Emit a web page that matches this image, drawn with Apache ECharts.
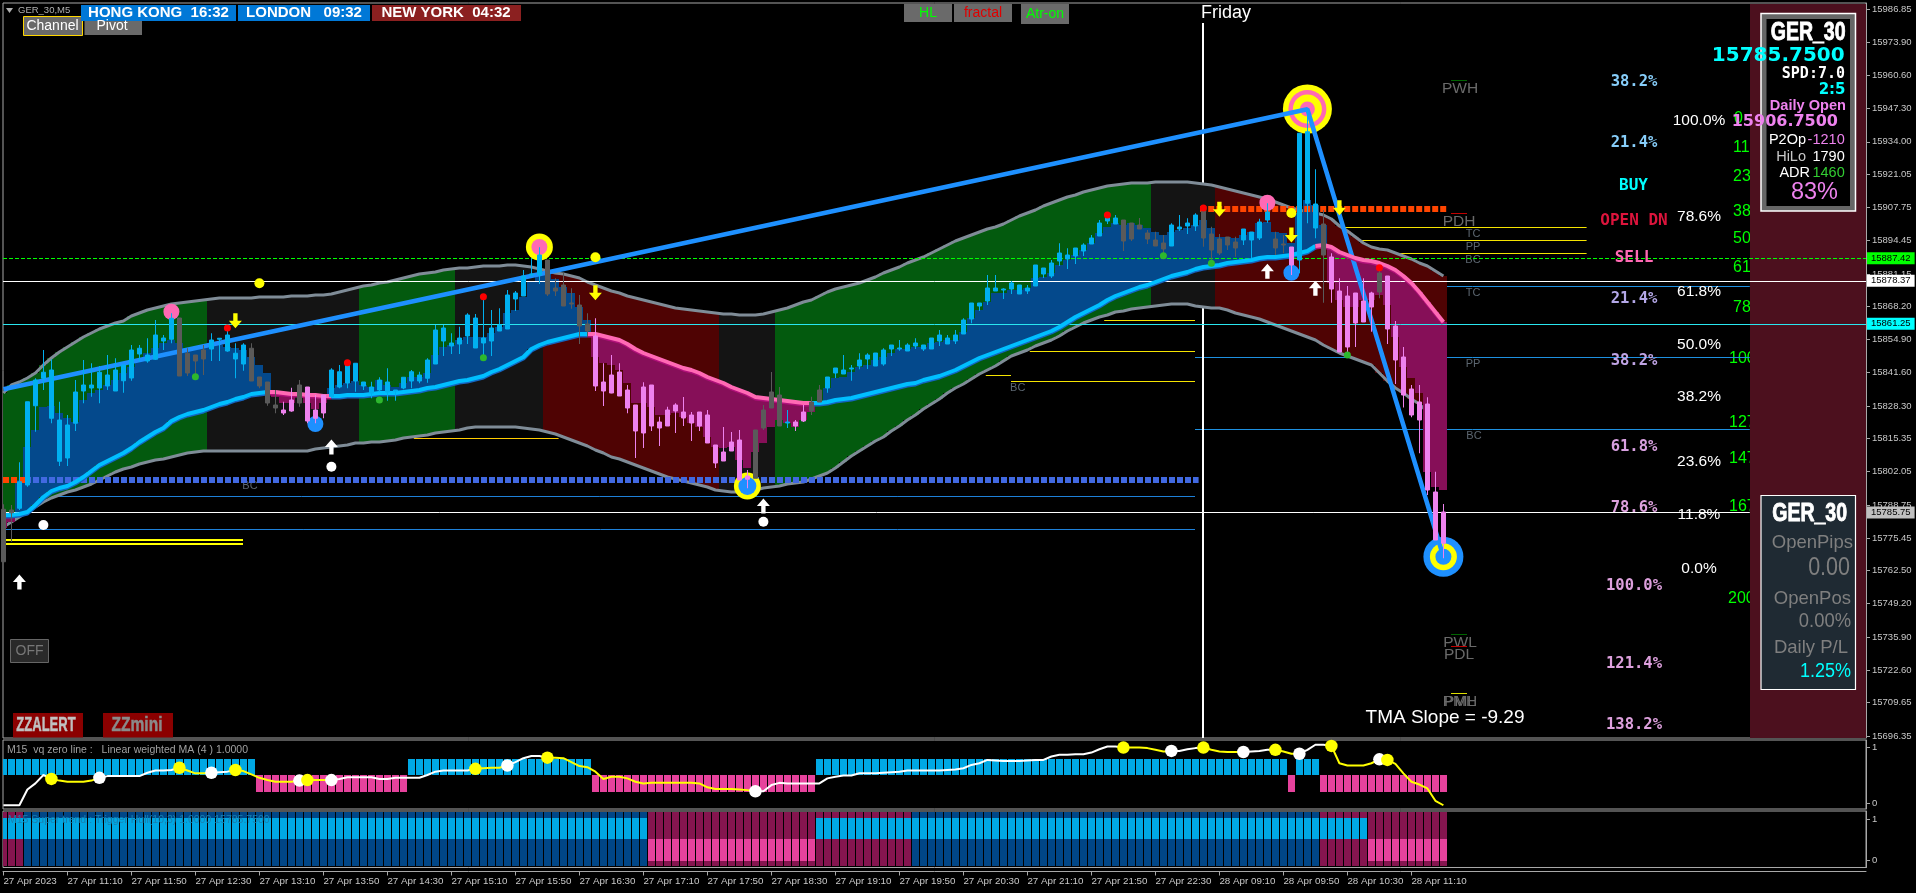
<!DOCTYPE html>
<html><head><meta charset="utf-8">
<style>html,body{margin:0;padding:0;background:#000}#c{width:1916px;height:893px}</style>
<script src="https://cdn.jsdelivr.net/npm/echarts@6/dist/echarts.min.js"></script>
</head><body><div id="c"></div>
<script>
const timeLabels=['27 Apr 2023','27 Apr 11:10','27 Apr 11:50','27 Apr 12:30','27 Apr 13:10','27 Apr 13:50','27 Apr 14:30','27 Apr 15:10','27 Apr 15:50','27 Apr 16:30','27 Apr 17:10','27 Apr 17:50','27 Apr 18:30','27 Apr 19:10','27 Apr 19:50','27 Apr 20:30','27 Apr 21:10','27 Apr 21:50','27 Apr 22:30','28 Apr 09:10','28 Apr 09:50','28 Apr 10:30','28 Apr 11:10'];
const priceTicks=[15986.85,15973.90,15960.60,15947.30,15934.00,15921.05,15907.75,15894.45,15881.15,15868.20,15854.90,15841.60,15828.30,15815.35,15802.05,15788.75,15775.45,15762.50,15749.20,15735.90,15722.60,15709.65,15696.35];

const candleKindRuns=[['g',2],['c',20],['g',4],['c',5],['g',4],['p',2],['g',1],['p',3],['c',27],['g',6],['p',20],['g',4],['c',1],['p',2],['g',2],['c',37],['g',6],['c',4],['g',5],['c',4],['g',2],['p',1],['c',3],['g',1],['p',6],['g',1],['p',8]];
const bodyTop=[15787,15786.7,15798,15830,15838.7,15841.8,15842.7,15822.7,15820.7,15833.9,
15836.7,15836.7,15841.8,15840.7,15842.7,15844.7,15850.7,15851.4,15848.7,15856.7,
15855.5,15863.4,15863.5,15849.4,15848.7,15850.7,15854.7,15855.4,15856.7,15849.4,
15852.7,15851.4,15839.9,15837.9,15828.7,15826.7,15830.7,15836.7,15835.9,15826.7,
15832.7,15842.7,15842,15844.7,15845.4,15837.9,15835.9,15838.7,15837.9,15834.7,
15839.8,15842,15840.7,15846.7,15858.7,15859.5,15853.5,15855.5,15864.7,15863.5,
15855.5,15859.5,15860.7,15872.7,15873.5,15880.3,15881.1,15888.7,15886.7,15875.5,
15876.7,15869.5,15868.7,15861.1,15856.3,15837.9,15840.7,15841.9,15834.7,15828.7,
15835.9,15836.7,15821.9,15826.7,15828.7,15825.9,15824.7,15825.9,15824.7,15812.7,
15809.9,15813.9,15814.7,15800.3,15818.7,15826.7,15833.9,15832.7,15821.9,15821.9,
15825.9,15829.9,15834.7,15839.9,15843.5,15842.7,15843.5,15846.7,15848.7,15849.5,
15850.7,15852.7,15851.5,15852.7,15853.5,15852.7,15855.5,15856.7,15855.5,15856.7,
15862.7,15869.5,15869.5,15875.5,15875.5,15875.1,15877.5,15876.7,15875.5,15884.7,
15883.5,15885.5,15889.5,15888.7,15891.5,15892.7,15895.5,15901.5,15904.7,15903.5,
15902.7,15901.5,15900.7,15897.5,15894.7,15893.5,15900.7,15899.9,15901.5,15904.7,
15907.1,15897.1,15895.1,15895.9,15893.9,15899.1,15897.9,15901.9,15905.9,15895.1,
15893.1,15891.9,15937.4,15938,15909.1,15901.1,15887.9,15874.3,15872.3,15873.5,
15870.3,15873.5,15881.5,15880.3,15860.3,15847.9,15835.1,15829.9,15829.1,15793.9,
15785.9];
const bodyBottom=[15766,15785.6,15787.4,15796.7,15828.4,15839.4,15823.4,15806.2,15807.5,15821.4,
15834.3,15835.5,15835.5,15836.3,15834.3,15838.4,15839.5,15849.1,15846.3,15847,
15854.3,15855,15840.3,15841.5,15846.3,15847.1,15851.1,15855,15850.3,15847.1,
15845.1,15838.3,15836.3,15829.5,15827.5,15825.5,15826.3,15829.5,15822.3,15823.4,
15825.5,15832,15835.9,15837.5,15838.3,15836.3,15833.5,15834.7,15833.9,15834.3,
15835.5,15838.3,15838.3,15839.4,15845.1,15854.3,15852.3,15853.1,15856.3,15851.5,
15853.5,15854.3,15858.3,15859.1,15871.1,15872.3,15880.7,15880.7,15873.1,15874.3,
15868.3,15869.1,15860.3,15858.3,15836.3,15834.3,15833.5,15832.3,15827.5,15818.3,
15817.5,15820.3,15819.5,15820.3,15826.3,15823.5,15821.5,15820.3,15813.5,15805.5,
15806.3,15810.3,15798.7,15799,15799.4,15819.5,15827.5,15820.3,15821.5,15820.3,
15822.3,15826.3,15829.9,15835.5,15841.5,15841.1,15843.1,15844.3,15847.1,15844.3,
15845.1,15851.1,15851.1,15850.3,15852.3,15851.1,15851.1,15854.3,15853.1,15854.3,
15857.1,15863.1,15868.3,15870.3,15874.3,15874.7,15875.1,15873.1,15874.3,15876.3,
15881.1,15880.3,15886.3,15887.1,15888.3,15890.3,15893.1,15896.3,15902.3,15901.1,
15894.3,15895.1,15899.1,15895.1,15892.3,15891.1,15892.3,15899.1,15900.3,15900.3,
15895.5,15890.7,15889.5,15892.7,15891.5,15894.7,15894.7,15895.5,15902.7,15891.5,
15892.7,15884.7,15886.7,15909.4,15899.5,15888.7,15875.1,15849.9,15851.9,15861.5,
15861.9,15867.9,15873.9,15859.1,15846.7,15832.7,15824.7,15822.7,15794.7,15774.7,
15773.4];
const wickHigh=[15789,15788.7,15805.8,15830,15839.4,15850.7,15847,15830,15824.7,15838.7,
15846.7,15845.4,15844.3,15848.7,15847.4,15844.7,15852.7,15852.7,15855.4,15862.7,
15856.7,15865.4,15863.5,15851.4,15848.7,15852.7,15857.4,15855.4,15858.7,15853.4,
15853.4,15853.4,15839.9,15837.9,15834.7,15830,15835.6,15838.7,15835.9,15832.7,
15832.7,15843.4,15844.7,15846,15845.4,15837.9,15838,15839.8,15843.4,15834.7,
15839.8,15842.7,15842,15847.4,15860.7,15860.7,15857.4,15860,15865.4,15865.1,
15872,15866.7,15867.4,15874.7,15874.3,15882.7,15887.4,15891.8,15886.7,15879.4,
15881.6,15875.4,15872.7,15865.4,15863.4,15845.4,15848.7,15845.4,15836.7,15828.7,
15837.8,15836.7,15824,15828,15829.4,15831.9,15825.9,15825.9,15826.7,15812.7,
15819.9,15817.9,15818.7,15802.7,15818.7,15828.7,15841.9,15835.9,15826.7,15822.7,
15828.7,15832,15836.7,15839.9,15843.5,15848.7,15844.7,15849.4,15849.4,15849.5,
15851.4,15852.7,15854.7,15853.4,15855.4,15852.7,15855.5,15858.7,15856.7,15858.7,
15863.4,15869.5,15869.5,15880.7,15880.7,15875.4,15878.3,15876.7,15876.7,15884.7,
15883.5,15886.7,15893.4,15891.4,15891.5,15893.4,15896.7,15902.7,15905.9,15904.7,
15902.7,15901.5,15903.5,15898.7,15898,15896.7,15901.4,15904.7,15903.4,15905.4,
15907.1,15900,15897.1,15895.9,15896,15899.1,15897.9,15903.2,15909.4,15898,
15896.7,15891.9,15937.4,15947,15923,15906.7,15889.4,15879.4,15876.3,15873.5,
15879.4,15874,15884,15880.3,15862.3,15851.9,15836.7,15836.7,15831.8,15802,
15789.1];
const wickLow=[15766,15774,15786.7,15796,15818,15834.7,15821.4,15804.3,15804.3,15818.3,
15829.4,15832,15829.4,15834.7,15834.3,15833.6,15838.4,15846,15845.6,15846.7,
15850.7,15853.4,15840.3,15840.3,15839.4,15840.7,15846.3,15846.3,15850,15839.4,
15842.4,15838.3,15835.4,15828.4,15825.4,15824.7,15826,15828,15821.4,15821.4,
15823.4,15831.4,15835.4,15835.4,15834,15834.7,15831.4,15834,15830.4,15830.4,
15835,15835.4,15837.4,15837.6,15845.1,15848.3,15849.1,15849.1,15853.1,15851.5,
15848.3,15848.3,15858.3,15859.1,15866.3,15872.3,15880,15877.1,15872.3,15872.3,
15868.3,15867.2,15853.1,15856,15834.3,15828.3,15833.4,15832.3,15825.4,15807.5,
15811.5,15818.3,15812.3,15820.3,15817.5,15820.3,15814.3,15818.3,15813.5,15803.5,
15806.3,15810.3,15798.7,15795.4,15799.4,15818.7,15827.5,15820.3,15819.5,15818.3,
15821.9,15824.7,15829.9,15833.6,15839.5,15841.1,15838.4,15843,15843.1,15844.3,
15844.4,15848.3,15850.4,15850.3,15851.1,15850.3,15851.1,15852.3,15853.1,15853.1,
15857.1,15861.4,15866.3,15868.7,15874.3,15871.1,15873.1,15873.1,15873.1,15876.3,
15879.5,15879.5,15884.3,15883.1,15885.1,15888.3,15893.1,15896.3,15901.1,15901.1,
15890.3,15894.3,15899.1,15893.1,15892.3,15887.4,15892.3,15898.3,15897.1,15898.3,
15892,15884.7,15888.7,15890.7,15888,15892.7,15887.4,15894.7,15901.6,15888.7,
15889.4,15880.7,15881.4,15901.4,15895.4,15869.6,15869.6,15849.9,15848.7,15851.9,
15861.9,15858,15871.4,15853.1,15837.1,15827.7,15823.8,15809.4,15792.7,15774.7,
15767.4];

const upperBand=[15833.5,15836.7,15837.9,15839.5,15841.5,15844.7,15847.5,15849.9,15851.9,15853.9,
15855.9,15857.5,15859.1,15860.3,15861.5,15862.3,15864.3,15865.5,15866.7,15867.5,
15868.3,15869.1,15869.5,15869.9,15870.3,15870.7,15871.1,15871.5,15871.5,15871.5,
15871.5,15871.5,15871.9,15871.9,15871.9,15871.9,15872.3,15872.3,15872.3,15872.7,
15872.7,15873.1,15873.9,15874.7,15875.5,15876.3,15876.7,15877.5,15877.9,15878.7,
15879.5,15880.3,15881.1,15881.5,15881.9,15882.7,15883.1,15883.5,15883.5,15883.9,
15884.3,15884.3,15884.3,15884.7,15884.7,15884.3,15883.9,15883.1,15882.3,15881.5,
15881.1,15880.3,15879.5,15877.9,15876.7,15875.5,15874.3,15873.5,15872.3,15871.5,
15870.7,15869.9,15869.1,15868.3,15867.5,15867.1,15866.7,15866.3,15865.9,15865.5,
15865.1,15865.1,15864.7,15864.7,15864.7,15865.1,15865.9,15866.7,15867.5,15868.7,
15869.9,15870.7,15872.3,15873.9,15875.1,15875.9,15876.7,15877.5,15878.7,15879.9,
15881.5,15882.7,15883.9,15885.5,15886.7,15887.9,15889.5,15891.1,15892.7,15894.3,
15895.5,15896.7,15897.9,15899.1,15899.9,15901.1,15902.7,15904.3,15905.5,15906.7,
15908.3,15909.5,15910.7,15911.9,15912.7,15913.9,15914.7,15915.5,15916.3,15916.7,
15917.1,15917.5,15917.5,15917.5,15917.9,15917.9,15917.9,15917.9,15917.9,15917.5,
15917.1,15916.7,15915.9,15915.1,15914.3,15913.5,15912.7,15911.9,15911.1,15909.9,
15908.7,15907.5,15906.7,15905.9,15905.5,15904.7,15903.1,15900.3,15898.3,15895.9,
15893.5,15891.9,15891.1,15890.7,15889.5,15888.3,15887.1,15885.5,15884.3,15882.3,
15880.3];
const lowerBand=[15779.9,15781.9,15783.9,15785.9,15787.9,15789.9,15791.5,15792.7,15793.9,15794.7,
15795.9,15797.1,15798.7,15800.3,15801.9,15803.1,15803.9,15805.1,15805.9,15806.7,
15807.1,15807.9,15808.7,15809.5,15809.9,15810.3,15810.3,15810.3,15810.3,15810.3,
15810.3,15810.3,15810.3,15810.3,15810.3,15810.3,15810.3,15810.3,15810.3,15811.1,
15811.5,15811.9,15812.3,15812.7,15813.5,15813.5,15813.9,15813.9,15814.3,15814.7,
15815.5,15815.9,15816.3,15816.7,15817.5,15817.9,15818.3,15818.7,15819.5,15819.9,
15819.9,15819.9,15819.9,15819.9,15819.9,15819.5,15819.1,15818.7,15817.9,15817.1,
15815.9,15814.7,15813.5,15812.3,15810.7,15809.5,15807.9,15807.1,15805.9,15804.7,
15803.5,15802.3,15801.1,15799.9,15799.1,15798.3,15797.5,15796.7,15795.9,15794.7,
15794.3,15793.9,15793.9,15794.3,15794.7,15795.5,15795.9,15796.3,15797.1,15797.5,
15797.9,15799.1,15800.3,15801.5,15803.5,15805.9,15808.3,15810.3,15812.3,15814.3,
15815.9,15818.3,15820.3,15822.7,15824.7,15827.1,15829.1,15831.1,15833.5,15835.5,
15837.1,15839.1,15841.1,15842.7,15844.3,15846.3,15848.3,15849.5,15850.7,15852.3,
15853.5,15854.7,15856.3,15858.3,15859.9,15861.5,15862.7,15863.9,15864.7,15865.9,
15866.3,15867.1,15867.5,15867.9,15868.3,15868.7,15869.1,15869.1,15869.1,15868.3,
15867.9,15867.5,15867.5,15866.7,15865.5,15864.7,15863.9,15863.1,15861.9,15860.7,
15859.5,15858.3,15857.1,15855.9,15854.7,15852.7,15851.1,15849.5,15848.3,15847.1,
15845.9,15844.7,15841.5,15838.3,15835.5,15833.5,15831.1,15829.1,15825.9,15822.7,
15819.5];
const trendMid=[15784.7,15784.7,15785.1,15785.9,15788.7,15791.9,15794.3,15795.5,15796.3,15797.9,
15799.9,15802.3,15804.7,15806.3,15807.9,15809.5,15811.5,15813.9,15815.9,15817.9,
15819.5,15822.3,15823.9,15825.1,15825.9,15826.7,15827.9,15829.1,15829.9,15831.1,
15831.9,15833.1,15833.5,15833.9,15833.9,15833.5,15833.1,15833.1,15832.7,15832.7,
15832.3,15832.3,15832.3,15832.7,15832.7,15832.7,15833.1,15833.5,15833.5,15833.5,
15833.9,15834.3,15834.7,15835.5,15835.9,15836.7,15837.5,15838.3,15838.7,15839.5,
15840.3,15841.9,15843.1,15844.7,15846.3,15847.9,15851.1,15852.7,15853.9,15854.7,
15855.5,15856.3,15857.1,15857.1,15857.1,15856.3,15855.5,15854.7,15853.1,15851.1,
15849.5,15848.3,15847.1,15845.9,15844.7,15843.5,15842.7,15841.5,15839.9,15838.7,
15837.5,15835.9,15834.7,15833.5,15831.9,15831.5,15831.1,15830.7,15830.3,15829.9,
15829.5,15829.5,15829.5,15829.9,15830.7,15831.1,15831.5,15832.3,15833.1,15833.9,
15834.7,15835.5,15836.3,15837.1,15837.5,15838.7,15839.5,15840.3,15841.5,15842.7,
15844.3,15845.9,15847.5,15848.7,15849.9,15851.1,15852.3,15853.5,15854.7,15855.9,
15857.1,15858.3,15859.9,15861.9,15863.9,15865.5,15867.1,15868.7,15870.7,15872.3,
15873.5,15874.7,15875.9,15876.7,15877.9,15879.1,15880.3,15881.1,15881.9,15883.1,
15883.9,15884.3,15884.7,15885.5,15885.9,15886.3,15886.7,15887.5,15887.9,15887.9,
15888.3,15888.7,15889.5,15890.3,15892.3,15892.7,15891.9,15889.9,15888.7,15887.5,
15886.7,15886.3,15885.5,15884.3,15882.7,15880.3,15877.5,15873.9,15869.9,15865.9,
15861.9];
const trendEdge=[15779.5,15781.9,15798.7,15811.9,15818.7,15827.9,15828.3,15825.5,15823.5,15821.9,
15830.7,15833.5,15834.7,15836.7,15838.7,15841.5,15843.9,15846.7,15849.5,15851.5,
15853.5,15854.7,15853.5,15851.5,15851.5,15851.9,15853.5,15852.7,15851.9,15851.5,
15850.7,15847.9,15844.7,15841.5,15831.9,15829.5,15829.5,15831.9,15829.5,15827.1,
15829.5,15835.5,15836.7,15837.5,15838.3,15836.7,15835.9,15838.7,15836.7,15835.9,
15837.5,15839.9,15839.9,15841.5,15848.7,15851.9,15852.7,15854.7,15855.9,15855.9,
15855.9,15857.5,15859.9,15865.5,15866.7,15871.9,15877.9,15880.7,15881.1,15879.1,
15875.9,15873.5,15867.9,15862.7,15847.9,15845.5,15844.7,15842.7,15837.5,15829.5,
15829.5,15827.9,15824.7,15824.7,15825.5,15823.9,15821.5,15819.9,15815.9,15811.9,
15811.5,15811.9,15806.7,15803.5,15809.9,15813.5,15819.9,15822.7,15821.5,15819.9,
15822.7,15825.9,15828.7,15835.5,15839.5,15839.9,15841.9,15843.9,15844.7,15846.7,
15847.9,15849.5,15851.1,15851.1,15851.9,15851.9,15853.5,15853.9,15854.7,15854.7,
15857.9,15863.5,15866.7,15869.9,15873.5,15873.5,15874.7,15874.7,15875.5,15879.5,
15879.9,15881.5,15884.7,15886.7,15888.7,15890.7,15893.5,15897.5,15899.9,15901.5,
15900.7,15901.5,15900.7,15899.5,15897.9,15896.7,15897.9,15898.7,15899.5,15900.7,
15902.7,15899.5,15895.9,15895.9,15895.5,15896.7,15897.9,15901.5,15901.9,15897.9,
15897.5,15893.5,15905.5,15910.7,15908.7,15900.7,15877.5,15870.7,15867.9,15867.9,
15870.7,15870.7,15872.7,15868.7,15855.9,15843.9,15839.5,15833.5,15801.9,15795.9,
15794.7];
const bandStateRuns=[['green',26],['flat',19],['green',12],['flat',11],['red',22],['flat',7],['green',47],['flat',8],['red',29]];
const pinkTrendRanges=[[33,41],[73,101],[164,180]];

const zigzag=[[0,15835],[163,15947],[180,15768]];
const pivotYellowRight=[[148.95,197.9,15899.8],[148.95,197.9,15894.6],[148.95,197.9,15889.4]];
const pivotBlueRight=[[148.95,218.3,15876.3],[148.95,218.3,15847.8],[148.95,218.3,15819]];
const pivotYellowLeft=[[137.6,148.95,15862.6],[128.3,148.95,15850.2],[125.95,148.95,15838.2],[122.8,125.95,15840.6]];
const pivotBlueLeft=[[0,148.95,15792.2],[0.3,148.95,15779]];
const oldYellow=[[0.08,29.95,15774.6],[0.08,29.95,15773.2]];
const goldLevel=[[51.3,69.4,15815.4]];
const supportDash=[[2.7,149.4,15798.7]];
const resistanceDash=[[-0.05,2.7,15798.7],[149.6,180.5,15907.1]];
const fridaySeparator=149.95;
const bidPrice=15785.75, askLine=15878.37, greenLine=15887.42, cyanLine=15861.25;

const outerRingsPeak=[[163,15947.1]];
const ringTop=[[67,15891.9]];
const ringBottom=[[93,15796.3]];
const ringLow=[[180,15768]];
const pinkCircles=[[21,15866],[158,15909.6]];
const blueCircles=[[39,15821.1],[161,15881.6]];
const yellowDots=[[32,15877.4],[74,15887.8],[161,15905.5]];
const whiteDots=[[5,15780.7],[41,15804],[95,15782]];
const redDots=[[28,15859.5],[43,15845.6],[60,15872],[138,15904.7],[150,15907.5],[172,15883.6]];
const greenDots=[[24,15840],[47,15830.7],[60,15847.6],[145,15888.4],[151,15885.4],[168,15848.7]];
const downArrows=[[29,15862.4],[74,15873.6],[152,15907],[161,15896.7],[167,15907.6]];
const upArrows=[[2,15757.9],[41,15811.9],[95,15788.3],[158,15882.2],[164,15875.4]];

const vqLine=[-0.04,-0.04,-0.04,.24,.35,.50,.43,.40,.38,.38,.38,.40,.45,.48,.48,.48,.48,.48,.54,.58,.58,.59,.63,.58,.53,.53,.54,.55,.56,.59,.57,.51,.45,.41,.38,.38,.38,.40,.41,.41,.41,.41,.43,.46,.46,.46,.46,.43,.43,.45,.45,.45,.45,.50,.56,.58,.58,.58,.58,.61,.62,.63,.63,.67,.73,.80,.84,.84,.81,.81,.80,.73,.66,.64,.56,.43,.47,.47,.44,.38,.35,.36,.36,.36,.36,.36,.36,.35,.28,.25,.25,.25,.24,.23,.21,
.21,.32,.36,.35,.35,.35,.35,.35,.44,.47,.49,.49,.53,.53,.53,.54,.55,.56,.58,.58,.58,.58,.58,.59,.60,.62,.68,.71,.77,.76,.75,.75,.75,.76,.77,.77,.83,.86,.86,.87,.87,.90,.96,1.01,1.01,.99,.99,.99,.98,.95,.92,.93,.93,.96,.98,.99,.95,.92,.91,.91,.91,.92,.93,.95,.95,.92,.88,.88,.95,1.04,1.04,1.02,.71,.67,.67,.67,.71,.78,.77,.70,.53,.38,.33,.26,.04,-.04];
const vqYellowRanges=[[6,12],[22,26],[29,37],[38,41],[59,63],[68,94],[140,146],[150,155],[159,162],[166,172],[173,180]];
const vqYellowDots=[6,22,29,38,59,68,140,150,159,166,173];
const vqWhiteDots=[12,26,37,41,63,94,146,155,162,172];
const vqStateRuns=[['up',32],['down',19],['up',23],['down',28],['up',59],['down',1],['up',3],['down',16]];
const heatStateRuns=[['mix',3],['up',78],['down',21],['mix',12],['up',51],['mix',6],['down',10]];

const xMin=-0.05,xMax=232.825;
const expand=runs=>runs.flatMap(([k,n])=>Array(n).fill(k));
const kinds=expand(candleKindRuns), bandStates=expand(bandStateRuns), vqStates=expand(vqStateRuns), heatStates=expand(heatStateRuns);
const bars=bodyTop.map((_,i)=>i);

const C={cy:'#00b0f0',pk:'#ee82ee',gy:'#5a5a5a',green:'#035a0e',flat:'#141414',red:'#4f0303',blue:'#04498c',purple:'#860f58',
 hCy:'#00a8e4',hPk:'#e6429c',hDb:'#004687',hDp:'#85154f'};
const bandFill={green:C.green,flat:C.flat,red:C.red};
const FN='"Liberation Sans"',MO='"DejaVu Sans Mono"',DJ='"DejaVu Sans"';

function rectSeries(items,halfW,z,k){
 return {type:'custom',xAxisIndex:k,yAxisIndex:k,z,silent:true,clip:true,
  data:items.map(d=>[d[0],d[1],d[2]]),encode:{x:0,y:[1,2]},
  renderItem:(p,api)=>{
   const a=api.coord([api.value(0)-halfW,api.value(2)]),b=api.coord([api.value(0)+halfW,api.value(1)]);
   const x0=Math.round(a[0]),x1=Math.round(b[0]),y0=Math.round(a[1]),y1=Math.round(b[1]);
   return {type:'rect',shape:{x:x0,y:y0,width:x1-x0,height:y1-y0},style:{fill:items[p.dataIndex][3]}};
  }};
}
function line(data,color,width,z,extra={},k=0){
 return Object.assign({type:'line',xAxisIndex:k,yAxisIndex:k,data,showSymbol:false,symbol:'none',silent:true,z,clip:true,
  lineStyle:Object.assign({color,width,cap:'butt'},extra.ls||{})},extra.opt||{});
}
// horizontal levels go through the axis scale and are then snapped to a device pixel row so they stay crisp
function levels(list,color,width,z,dash){
 return {type:'custom',xAxisIndex:0,yAxisIndex:0,z,silent:true,clip:true,
  data:list,encode:{x:[0,1],y:2},
  renderItem:(p,api)=>{
   const a=api.coord([api.value(0),api.value(2)]),b=api.coord([api.value(1),api.value(2)]);
   const y=Math.round(a[1])+(width%2?.5:0);
   return {type:'line',shape:{x1:a[0],y1:y,x2:b[0],y2:y},style:{stroke:color,lineWidth:width,lineDash:dash||null,fill:null}};
  }};
}
function dots(points,color,size,z,k=0,symbol='circle'){
 return {type:'scatter',xAxisIndex:k,yAxisIndex:k,data:points,symbol,symbolSize:size,z,silent:true,clip:false,itemStyle:{color,opacity:1}};
}

const bandRects=bars.map(i=>[i,lowerBand[i],upperBand[i],bandFill[bandStates[i]]]);
const histRects=bars.map(i=>{const a=trendMid[i],b=trendEdge[i];return [i,Math.min(a,b),Math.max(a,b),b>a?C.blue:C.purple];});
const inPink=(i,strict)=>pinkTrendRanges.some(([a,b])=>strict?(i>a&&i<b):(i>=a&&i<=b));
const midCyan=bars.map(i=>inPink(i,true)?[i,null]:[i,trendMid[i]]);
const midPink=bars.map(i=>inPink(i,false)?[i,trendMid[i]]:[i,null]);
const candles=bars.map(i=>{
 const up=kinds[i]==='c';
 const col=kinds[i]==='c'?C.cy:kinds[i]==='p'?C.pk:C.gy;
 return {value:[i,up?bodyBottom[i]:bodyTop[i],up?bodyTop[i]:bodyBottom[i],wickLow[i],wickHigh[i]],
  itemStyle:{color:col,color0:col,borderColor:col,borderColor0:col,borderWidth:1}};
});
const vqRects=bars.map(i=>vqStates[i]==='up'?[i,.5,.786,C.hCy]:[i,.196,.5,C.hPk]);
const inY=i=>vqYellowRanges.some(([a,b])=>i>=a&&i<=b);
const inYs=i=>vqYellowRanges.some(([a,b])=>i>a&&i<b);
const vqWhite=bars.map(i=>inYs(i)?[i,null]:[i,vqLine[i]]);
const vqYellow=bars.map(i=>inY(i)?[i,vqLine[i]]:[i,null]);
const heatColors={up:[C.hDb,C.hCy,C.hDb,C.hDb],mix:[C.hDp,C.hCy,C.hDp,C.hDp],down:[C.hDp,C.hDp,C.hPk,C.hDp]};
const heatBreaks=[1.17,1.02,.51,-.02,-.146];
const heatRects=bars.flatMap(i=>heatColors[heatStates[i]].map((c,r)=>[i,heatBreaks[r+1],heatBreaks[r],c]));

const downPath='path://M4 0H8V7H12L6 14L0 7H4Z', upPath='path://M6 0L12 7H8V14H4V7H0Z';

const series=[
 levels(pivotYellowRight,'#f5e400',1,1),
 levels(pivotBlueRight,'#1e90e0',1,1),
 levels(pivotYellowLeft,'#f5e400',1,1),
 levels(pivotBlueLeft,'#1e80d8',1,1),
 levels(oldYellow,'#ffff00',2,1),
 levels(goldLevel,'#ffcc00',1,1),
 line([[fridaySeparator,15981.5],[fridaySeparator,15695.5]],'#ffffff',2,1),
 rectSeries(bandRects,.5,2,0),
 line(bars.map(i=>[i,upperBand[i]]),'#7f8c97',3,3),
 line(bars.map(i=>[i,lowerBand[i]]),'#7f8c97',3,3),
 rectSeries(histRects,.5,4,0),
 levels([[xMin,xMax,greenLine]],'#00ff00',1,5,[4,2]),
 levels([[xMin,xMax,askLine]],'#ffffff',1,5),
 levels([[xMin,xMax,cyanLine]],'#29e6f0',1,5),
 levels([[xMin,218.3,bidPrice]],'#ffffff',1,5),
 levels(supportDash,'#4169e1',6,5,[6,2]),
 levels(resistanceDash,'#ff4500',6,5,[6,2]),
 dots(outerRingsPeak,'#ffff00',49,6),dots(outerRingsPeak,'#ff69b4',38,6.1),dots(outerRingsPeak,'#ffff00',29,6.2),dots(outerRingsPeak,'#ff69b4',15,6.3),
 dots(ringTop,'#ffff00',27,6),dots(ringTop,'#ff69b4',16,6.1),
 dots(ringBottom,'#ffff00',27,6),dots(ringBottom,'#1e90ff',18,6.1),
 dots(ringLow,'#1e90ff',40,6),dots(ringLow,'#ffff00',27,6.1),dots(ringLow,'#1e90ff',16,6.2),
 dots(pinkCircles,'#ff69b4',16,6),dots(blueCircles,'#1e90ff',16,6),
 line(zigzag,'#1e90ff',4.5,7),
 line(midCyan,'#00bfff',4,8,{ls:{shadowColor:'#1565c0',shadowBlur:0,shadowOffsetY:1.5}}),
 line(midPink,'#ff69b4',4,8,{ls:{shadowColor:'#b0107a',shadowBlur:0,shadowOffsetY:1.5}}),
 {type:'candlestick',xAxisIndex:0,yAxisIndex:0,data:candles,barWidth:5,z:9,silent:true,clip:true},
 dots(yellowDots,'#ffff00',10,10),dots(whiteDots,'#ffffff',10,10),dots(redDots,'#ff0000',7,10),dots(greenDots,'#2db82d',7,10),
 dots(downArrows,'#ffff00',[13,15],10,0,downPath),
 dots(upArrows,'#ffffff',[13,15],10,0,upPath),
 {type:'line',xAxisIndex:0,yAxisIndex:0,data:[],z:20,silent:true,markLine:{silent:true,symbol:'none',animation:false,
  lineStyle:{color:'transparent',width:0},
  label:{position:'end',distance:1,fontFamily:'Liberation Sans',fontSize:9.5,color:'#000',padding:[1,4,1,4],formatter:p=>p.value.toFixed(2)},
  data:[{yAxis:greenLine,label:{backgroundColor:'#00ff00'}},{yAxis:askLine,label:{backgroundColor:'#ffffff'}},{yAxis:cyanLine,label:{backgroundColor:'#00ffff'}},{yAxis:bidPrice,label:{backgroundColor:'#c0c0c0'}}]}},
 rectSeries(vqRects,.44,2,1),
 line(vqWhite,'#ffffff',2,3,{},1),
 line(vqYellow,'#ffff00',2,3.5,{},1),
 dots(vqWhiteDots.map(i=>[i,vqLine[i]]),'#ffffff',12.5,4,1),
 dots(vqYellowDots.map(i=>[i,vqLine[i]]),'#ffff00',12.5,4.1,1),
 rectSeries(heatRects,.44,2,2)
];

const g=[];
const box=(x,y,w,h,fill,stroke,lw,z)=>g.push({type:'rect',silent:true,z,shape:{x,y,width:w,height:h},style:{fill,stroke:stroke||null,lineWidth:lw||0}});
const txt=(text,x,y,fill,font,align='left',z=60,sx=1,heavy=0)=>g.push({type:'text',silent:true,z,x,y,scaleX:sx,style:Object.assign({text,fill,font,align,verticalAlign:'middle',textAlign:align,textVerticalAlign:'middle'},heavy?{stroke:fill,lineWidth:heavy}:{})});

const ruler=[['0',1734,119],['11',1733,148],['23',1733,177],['38',1733,212],['50',1733,239],['61',1733,268],['78',1733,308],['100',1729,359],['127',1729,423],['147',1729,459],['167',1729,507],['200',1728,599]];
ruler.forEach(r=>txt(r[0],r[1],r[2],'#00ff00','16px '+FN,'left',0));
box(1750,4,116,734,'#4c101e',null,0,1);

txt('GER_30,M5',18,10.5,'#b0b0b0','9.5px '+FN);
g.push({type:'polygon',silent:true,z:60,shape:{points:[[6,8],[13,8],[9.5,13]]},style:{fill:'#b0b0b0'}});
box(81,5,155,16,'#0078d7',null,0,58);txt('HONG KONG  16:32',158.5,13,'#fff','bold 15px '+FN,'center');
box(238,5,132,16,'#0078d7',null,0,58);txt('LONDON   09:32',304,13,'#fff','bold 15px '+FN,'center');
box(372,5,149,16,'#8b2020',null,0,58);txt('NEW YORK  04:32',446,13,'#fff','bold 15px '+FN,'center');
box(23.5,16.5,59,19,'#6a6a6a','#ffd700',1,57);txt('Channel',52.5,26.5,'#fff','14px '+FN,'center');
box(84.5,21,57.5,14,'#6a6a6a',null,0,57);txt('Pivot',112,26.5,'#fff','14px '+FN,'center');
box(904,4,48,18,'#6a6a6a',null,0,57);txt('HL',928,13.5,'#00ff00','14px '+FN,'center');
box(954,4,58,18,'#6a6a6a',null,0,57);txt('fractal',983,13.5,'#e00000','14px '+FN,'center');
box(1021,4,48,20,'#6a6a6a',null,0,57);txt('Atr-on',1045,14.5,'#00ff00','14px '+FN,'center');
txt('Friday',1226,13,'#ffffff','18px '+FN,'center');

[['38.2%',82,'#87cefa'],['21.4%',143,'#87cefa'],['21.4%',299,'#b4a8e8'],['38.2%',361,'#c0a4e4'],['61.8%',447,'#d8a0e0'],['78.6%',508,'#dda0dd'],['100.0%',586,'#dda0dd'],['121.4%',664,'#dda0dd'],['138.2%',725,'#dda0dd']]
 .forEach(r=>txt(r[0],1634,r[1],r[2],'bold 15.5px '+MO,'center'));
txt('BUY',1633.5,186,'#00ffff','bold 16px '+MO,'center');
txt('OPEN DN',1634,221,'#dc143c','bold 16px '+MO,'center');
txt('SELL',1634,257.7,'#ff69b4','bold 16px '+MO,'center');
[['100.0%',121],['78.6%',216.7],['61.8%',291.7],['50.0%',344.3],['38.2%',397],['23.6%',462],['11.8%',515],['0.0%',568.3]]
 .forEach(r=>txt(r[0],1699,r[1],'#ffffff','15.5px '+FN,'center'));
[['TC',1473,234],['PP',1473,247],['BC',1473,260],['TC',1473,293],['PP',1473,364],['BC',1474,436],['BC',250,486],['BC',1017.7,388]]
 .forEach(r=>txt(r[0],r[1],r[2],'#5c6670','11px '+FN,'center',3));
[['PWH',1460,89],['PDH',1459,222],['PWL',1460,643],['PDL',1459,655],['PMH',1460,702],['PML',1460,702]]
 .forEach(r=>txt(r[0],r[1],r[2],'#6a6a6a','15.5px '+FN,'center'));
[[1451,1467,80,'#006400'],[1451,1467,213,'#c00000'],[1451,1467,634,'#006400'],[1451,1467,646,'#c00000'],[1451,1467,693,'#e0e000']]
 .forEach(r=>g.push({type:'line',silent:true,z:60,shape:{x1:r[0],y1:r[2]+.5,x2:r[1],y2:r[2]+.5},style:{stroke:r[3],lineWidth:1}}));
txt('TMA Slope = -9.29',1445,717.7,'#ffffff','19px '+FN,'center');

box(1761,13.5,94.5,197.5,'#666','#fff',1.5,50);
box(1766.5,19,83.5,187,'#000',null,0,51);
txt('GER_30',1845.5,33,'#fff','bold 25px '+FN,'right',60,.78,.9);
txt('15785.7500',1844.7,55.7,'#00ffff','bold 20px '+DJ,'right');
txt('SPD:7.0',1845,74,'#fff','bold 15px '+MO,'right');
txt('2:5',1845.5,90,'#00ffff','bold 15px '+DJ,'right');
txt('Daily Open',1846,105.7,'#ee82ee','bold 14.6px '+FN,'right');
txt('15906.7500',1838,122,'#ee82ee','bold 16px '+DJ,'right');
txt('P2Op',1806,139.7,'#fff','14.5px '+FN,'right');txt('-1210',1844.7,139.7,'#ee82ee','14.5px '+FN,'right');
txt('HiLo',1806,156.7,'#c8c8c8','14.5px '+FN,'right');txt('1790',1844.7,156.7,'#fff','14.5px '+FN,'right');
txt('ADR',1810,173.3,'#fff','14.5px '+FN,'right');txt('1460',1844.7,173.3,'#32cd32','14.5px '+FN,'right');
txt('83%',1838,193,'#ee82ee','23.5px '+FN,'right');

box(1761,495.5,94.5,194,'#1f2a33','#ffffff',1.2,50);
txt('GER_30',1847,514,'#fff','bold 25px '+FN,'right',60,.78,.9);
txt('OpenPips',1853,542.7,'#7f7f7f','18.5px '+FN,'right');
txt('0.00',1850,568,'#7f7f7f','25px '+FN,'right',60,.86);
txt('OpenPos',1851,599,'#7f7f7f','18.5px '+FN,'right');
txt('0.00%',1851,621.7,'#7f7f7f','20px '+FN,'right',60,.92);
txt('Daily P/L',1848,648.3,'#7f7f7f','18.5px '+FN,'right');
txt('1.25%',1851,671.7,'#00ffff','20px '+FN,'right',60,.9);

box(10.5,639.5,38,23,'#2a2a2a','#666',1,57);txt('OFF',29.5,651,'#777','14px '+FN,'center');
box(13,713,70,24.5,'#8b0000',null,0,57);txt('ZZALERT',46,725.5,'#c0c0c0','bold 21px '+FN,'center',60,.62,.5);
box(103,713,70,24.5,'#8b0000',null,0,57);txt('ZZmini',137,725.5,'#8a8a8a','bold 21px '+FN,'center',60,.74,.5);
txt('M15  vq zero line :   Linear weighted MA (4 ) 1.0000',7,749.7,'#a0a0a0','10.5px '+FN);
txt('M15 Super trend : Trigger Hull(10,3) 1.0000 15785.7500',8,820,'#1780b0','10.5px '+FN);

const grids=[{top:3,height:735},{top:740,height:69},{top:811,height:56.5}].map(o=>({left:3,width:1863,top:o.top,height:o.height,show:true,backgroundColor:'#000',borderColor:'#a8a8a8',borderWidth:1}));
const axisStyle={lineStyle:{color:'#a8a8a8',width:1}};
const xTicks=timeLabels.map((_,k)=>k*8);
const xHidden=k=>({type:'value',gridIndex:k,min:xMin,max:xMax,show:false,splitLine:{show:false}});
const yAxisOf=(k,min,max,vals,fmt)=>({type:'value',gridIndex:k,position:'right',min,max,splitLine:{show:false},scale:false,
 axisLine:Object.assign({show:true,onZero:false},axisStyle),
 axisTick:{show:true,length:4,lineStyle:{color:'#a8a8a8'},customValues:vals},
 axisLabel:{show:true,margin:6,color:'#c8c8c8',fontFamily:'Liberation Sans',fontSize:9.5,customValues:vals,formatter:fmt,showMinLabel:true,showMaxLabel:true}});
const option={animation:false,backgroundColor:'#000',grid:grids,
 xAxis:[xHidden(0),xHidden(1),{type:'value',gridIndex:2,min:xMin,max:xMax,offset:4,position:'bottom',splitLine:{show:false},
  axisLine:Object.assign({show:true,onZero:false},axisStyle),
  axisTick:{show:true,length:4,lineStyle:{color:'#a8a8a8'},customValues:xTicks},
  axisLabel:{show:true,color:'#c8c8c8',fontFamily:'Liberation Sans',fontSize:9.8,margin:5,align:'left',customValues:xTicks,formatter:v=>timeLabels[Math.round(v/8)]||''}}],
 yAxis:[yAxisOf(0,15695.5,15989.5,priceTicks,v=>v.toFixed(2)),
        yAxisOf(1,-0.107,1.125,[0,1],v=>String(v)),
        yAxisOf(2,-0.183,1.195,[0,1],v=>String(v))],
 graphic:{elements:g},series};
echarts.init(document.getElementById('c'),null,{renderer:'canvas'}).setOption(option);
</script></body></html>
